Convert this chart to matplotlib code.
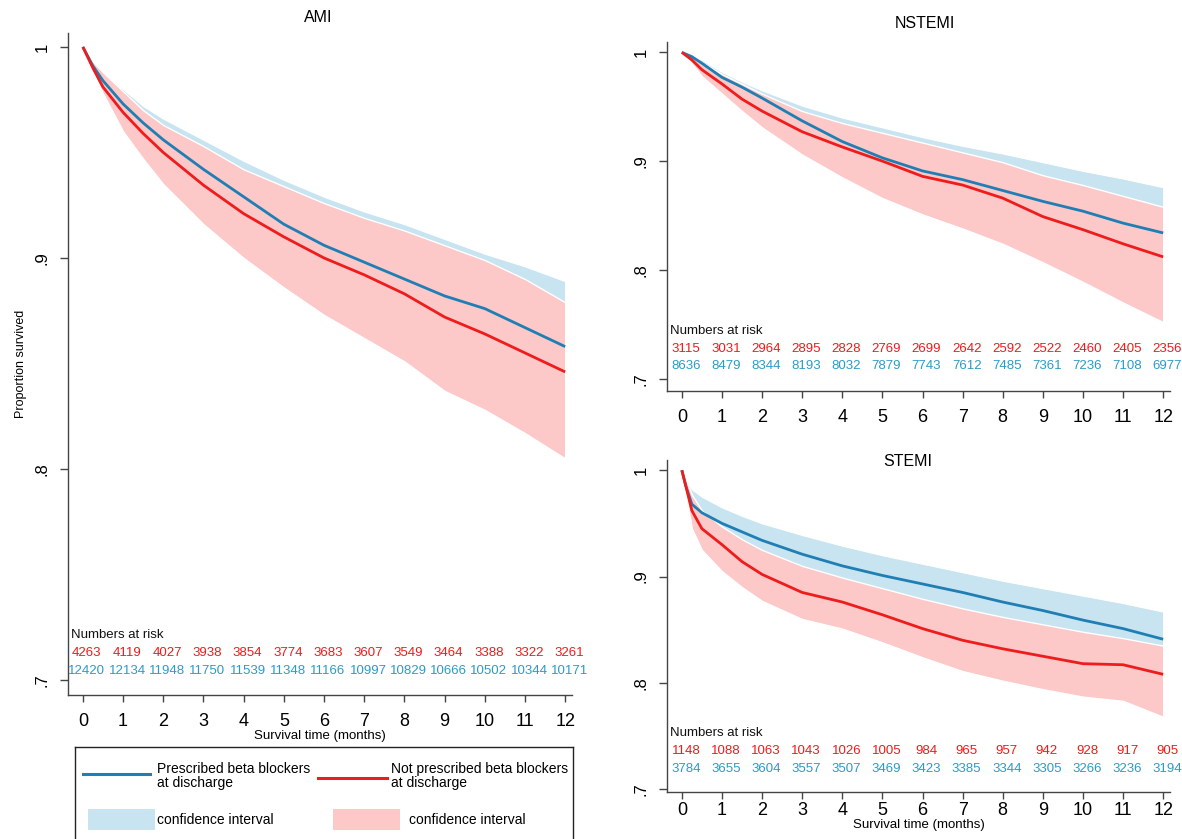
import numpy as np
import matplotlib
matplotlib.use("Agg")
import matplotlib.pyplot as plt
from matplotlib.transforms import blended_transform_factory
from matplotlib.patches import Rectangle

plt.rcParams['font.family'] = ['Liberation Sans', 'DejaVu Sans']

# -- colours -- #
BLUE = '#1f7fb4'
RED = '#ee1c1c'
BLUE_CI = '#c8e4f0'
RED_CI = '#fcc8c8'
BLUE_TXT = '#2b9bc8'
RED_TXT = '#f01a1a'
AXIS = '#444444'

W, H = 1182, 839

# -- survival estimates (months, proportion surviving) -- #
ami_months = [0, 0.25, 0.5, 1, 1.5, 2, 3, 4, 5, 6, 7, 8, 9, 10, 11, 12]
ami_bb = [1.0, 0.991, 0.984, 0.973, 0.964, 0.956, 0.942, 0.929, 0.916, 0.906, 0.898, 0.890, 0.882, 0.876, 0.867, 0.858]
ami_bb_hi = [1.0, 0.993, 0.988, 0.980, 0.972, 0.966, 0.956, 0.946, 0.937, 0.929, 0.922, 0.916, 0.909, 0.902, 0.896, 0.889]
ami_bb_lo = [1.0, 0.989, 0.980, 0.966, 0.956, 0.946, 0.928, 0.912, 0.895, 0.881, 0.874, 0.864, 0.855, 0.848, 0.838, 0.827]
ami_nobb = [1.0, 0.990, 0.981, 0.969, 0.959, 0.950, 0.9345, 0.921, 0.910, 0.900, 0.892, 0.883, 0.872, 0.864, 0.855, 0.846]
ami_nobb_hi = [1.0, 0.993, 0.988, 0.979, 0.970, 0.963, 0.953, 0.942, 0.934, 0.926, 0.919, 0.913, 0.906, 0.899, 0.890, 0.879]
ami_nobb_lo = [1.0, 0.988, 0.978, 0.960, 0.947, 0.935, 0.916, 0.900, 0.886, 0.873, 0.862, 0.851, 0.837, 0.828, 0.817, 0.805]

nstemi_months = [0, 0.25, 0.5, 1, 1.5, 2, 3, 4, 5, 6, 7, 8, 9, 10, 11, 12]
nstemi_bb = [1.0, 0.996, 0.990, 0.977, 0.968, 0.958, 0.937, 0.918, 0.903, 0.891, 0.883, 0.873, 0.863, 0.854, 0.843, 0.834]
nstemi_bb_hi = [1.0, 0.997, 0.993, 0.982, 0.973, 0.965, 0.951, 0.940, 0.931, 0.922, 0.914, 0.907, 0.899, 0.891, 0.884, 0.876]
nstemi_bb_lo = [1.0, 0.992, 0.985, 0.970, 0.960, 0.950, 0.927, 0.905, 0.888, 0.876, 0.868, 0.857, 0.845, 0.835, 0.823, 0.812]
nstemi_nobb = [1.0, 0.993, 0.984, 0.971, 0.957, 0.946, 0.927, 0.913, 0.900, 0.886, 0.878, 0.866, 0.849, 0.837, 0.824, 0.812]
nstemi_nobb_hi = [1.0, 0.996, 0.991, 0.980, 0.971, 0.962, 0.946, 0.935, 0.926, 0.917, 0.908, 0.899, 0.887, 0.878, 0.868, 0.858]
nstemi_nobb_lo = [1.0, 0.990, 0.978, 0.962, 0.946, 0.931, 0.906, 0.885, 0.866, 0.851, 0.838, 0.824, 0.807, 0.789, 0.770, 0.752]

stemi_months = [0, 0.1, 0.25, 0.5, 1, 1.5, 2, 3, 4, 5, 6, 7, 8, 9, 10, 11, 12]
stemi_bb = [1.0, 0.985, 0.968, 0.960, 0.950, 0.942, 0.934, 0.921, 0.910, 0.901, 0.893, 0.885, 0.876, 0.868, 0.859, 0.851, 0.841]
stemi_bb_hi = [1.0, 0.993, 0.982, 0.975, 0.965, 0.957, 0.950, 0.939, 0.929, 0.920, 0.912, 0.904, 0.896, 0.889, 0.882, 0.875, 0.867]
stemi_bb_lo = [1.0, 0.978, 0.958, 0.946, 0.936, 0.928, 0.919, 0.904, 0.892, 0.882, 0.874, 0.866, 0.856, 0.848, 0.837, 0.828, 0.816]
stemi_nobb = [1.0, 0.985, 0.962, 0.945, 0.930, 0.914, 0.902, 0.885, 0.876, 0.864, 0.851, 0.840, 0.832, 0.825, 0.818, 0.817, 0.808]
stemi_nobb_hi = [1.0, 0.992, 0.977, 0.962, 0.947, 0.935, 0.925, 0.910, 0.899, 0.889, 0.879, 0.870, 0.862, 0.855, 0.848, 0.842, 0.835]
stemi_nobb_lo = [1.0, 0.978, 0.945, 0.925, 0.905, 0.890, 0.877, 0.860, 0.851, 0.838, 0.824, 0.811, 0.802, 0.794, 0.787, 0.783, 0.768]

# -- numbers at risk at each month 0..12 -- #
risk_months = list(range(13))
ami_risk_nobb = [4263, 4119, 4027, 3938, 3854, 3774, 3683, 3607, 3549, 3464, 3388, 3322, 3261]
ami_risk_bb = [12420, 12134, 11948, 11750, 11539, 11348, 11166, 10997, 10829, 10666, 10502, 10344, 10171]
nstemi_risk_nobb = [3115, 3031, 2964, 2895, 2828, 2769, 2699, 2642, 2592, 2522, 2460, 2405, 2356]
nstemi_risk_bb = [8636, 8479, 8344, 8193, 8032, 7879, 7743, 7612, 7485, 7361, 7236, 7108, 6977]
stemi_risk_nobb = [1148, 1088, 1063, 1043, 1026, 1005, 984, 965, 957, 942, 928, 917, 905]
stemi_risk_bb = [3784, 3655, 3604, 3557, 3507, 3469, 3423, 3385, 3344, 3305, 3266, 3236, 3194]

yticks = [0.7, 0.8, 0.9, 1.0]
ytick_labels = ['.7', '.8', '.9', '1']


def px_rect(left, top, right, bottom):
    return [left / W, 1 - bottom / H, (right - left) / W, (bottom - top) / H]


def km_panel(ax, months, bb, bb_lo, bb_hi, nobb, nobb_lo, nobb_hi,
             risk_nobb, risk_bb, ylim, risk_rows, xpad=8):
    ax.fill_between(months, bb_lo, bb_hi, color=BLUE_CI, edgecolor='white', linewidth=0.8, zorder=1)
    ax.fill_between(months, nobb_lo, nobb_hi, color=RED_CI, edgecolor='white', linewidth=1.0, zorder=2)
    ax.plot(months, bb, color=BLUE, lw=2.0, zorder=3, solid_capstyle='butt')
    ax.plot(months, nobb, color=RED, lw=2.0, zorder=4, solid_capstyle='butt')

    ax.set_xlim(-0.37, 12.17)
    ax.set_ylim(*ylim)
    ax.set_xticks(risk_months)
    ax.set_yticks(yticks)
    ax.set_yticklabels(ytick_labels, rotation=90, va='center')
    for s in ['top', 'right']:
        ax.spines[s].set_visible(False)
    for s in ['left', 'bottom']:
        ax.spines[s].set_color(AXIS)
        ax.spines[s].set_linewidth(1.0)
    ax.tick_params(axis='x', direction='out', length=5, width=1.0, color=AXIS, labelsize=13, pad=xpad)
    ax.tick_params(axis='y', direction='out', length=6, width=1.0, color=AXIS, labelsize=12, pad=7)

    tr = blended_transform_factory(ax.transData, ax.transAxes)
    y_head, y_red, y_blue = risk_rows
    ax.text(0.006, y_head, 'Numbers at risk', transform=ax.transAxes, fontsize=9.5,
            ha='left', va='center', color='#111111')
    for m, n_r, n_b in zip(risk_months, risk_nobb, risk_bb):
        ax.text(m + 0.1, y_red, str(n_r), transform=tr, fontsize=9.5, ha='center', va='center', color=RED_TXT)
        ax.text(m + 0.1, y_blue, str(n_b), transform=tr, fontsize=9.5, ha='center', va='center', color=BLUE_TXT)


fig = plt.figure(figsize=(W / 100, H / 100), dpi=100)

ax_ami = fig.add_axes(px_rect(68, 33, 572, 695))
km_panel(ax_ami, ami_months, ami_bb, ami_bb_lo, ami_bb_hi, ami_nobb, ami_nobb_lo, ami_nobb_hi,
         ami_risk_nobb, ami_risk_bb, (0.6929, 1.0066),
         ((695 - 635) / 662, (695 - 653) / 662, (695 - 671) / 662))
ax_ami.set_ylabel('Proportion survived', fontsize=9, labelpad=6)
ax_ami.set_xlabel('Survival time (months)', fontsize=9.5, labelpad=0)

ax_n = fig.add_axes(px_rect(667, 42, 1170, 391))
km_panel(ax_n, nstemi_months, nstemi_bb, nstemi_bb_lo, nstemi_bb_hi, nstemi_nobb, nstemi_nobb_lo, nstemi_nobb_hi,
         nstemi_risk_nobb, nstemi_risk_bb, (0.6887, 1.0095),
         ((391 - 331) / 349, (391 - 349) / 349, (391 - 366) / 349))

ax_s = fig.add_axes(px_rect(667, 460, 1170, 792))
km_panel(ax_s, stemi_months, stemi_bb, stemi_bb_lo, stemi_bb_hi, stemi_nobb, stemi_nobb_lo, stemi_nobb_hi,
         stemi_risk_nobb, stemi_risk_bb, (0.6973, 1.0096),
         ((792 - 733) / 332, (792 - 751) / 332, (792 - 769) / 332), xpad=2.5)
ax_s.set_xlabel('Survival time (months)', fontsize=9.5, labelpad=0)

fig.text(318 / W, 1 - 18 / H, 'AMI', fontsize=11.5, ha='center', va='center')
fig.text(925 / W, 1 - 23 / H, 'NSTEMI', fontsize=11.5, ha='center', va='center')
fig.text(908 / W, 1 - 461 / H, 'STEMI', fontsize=11.5, ha='center', va='center')

# -- legend box, drawn in pixel units -- #
lax = fig.add_axes(px_rect(75, 747, 573, 850))
lax.set_xlim(75, 573)
lax.set_ylim(850, 747)
lax.set_xticks([])
lax.set_yticks([])
for s in lax.spines.values():
    s.set_color('#222222')
    s.set_linewidth(1.0)
lax.plot([83, 150], [774, 774], color=BLUE, lw=2.2)
lax.text(157, 776, 'Prescribed beta blockers\nat discharge', fontsize=10, ha='left', va='center', linespacing=0.95)
lax.plot([318, 387], [778, 778], color=RED, lw=2.2)
lax.text(391, 776, 'Not prescribed beta blockers\nat discharge', fontsize=10, ha='left', va='center', linespacing=0.95)
lax.add_patch(Rectangle((88, 809), 67, 21, color=BLUE_CI, lw=0))
lax.text(157, 820, 'confidence interval', fontsize=10, ha='left', va='center')
lax.add_patch(Rectangle((333, 809), 67, 21, color=RED_CI, lw=0))
lax.text(409, 820, 'confidence interval', fontsize=10, ha='left', va='center')

fig.savefig('out.png', dpi=100)
